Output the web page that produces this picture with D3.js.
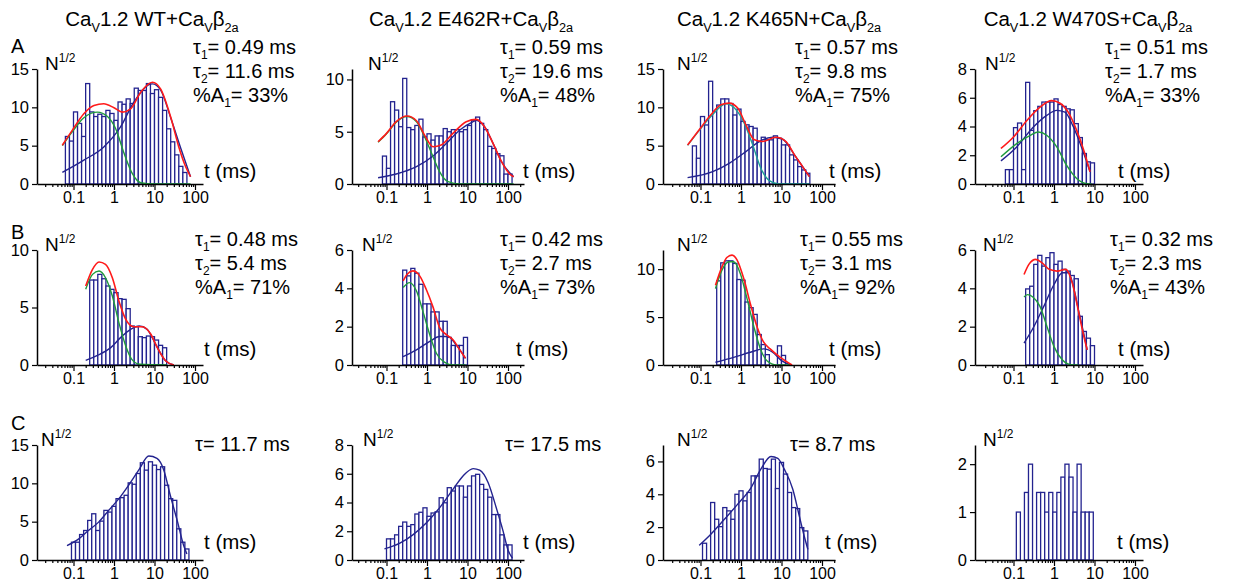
<!DOCTYPE html>
<html><head><meta charset="utf-8">
<script src="https://cdn.jsdelivr.net/npm/d3@7"></script>
<style>
body{margin:0;background:#fff}
svg{display:block}
text{font-family:"Liberation Sans",Arial,sans-serif;fill:#000}
</style>
</head><body>
<svg id="chart" width="1237" height="583"></svg>
<script>
// ---------------- DATA ----------------
const mutants = ["WT", "E462R", "K465N", "W470S"];
const rowLetters = ["A", "B", "C"];
const xTickLabels = [0.1, 1, 10, 100];

// y axis maxima and ticks
const yMaxA = [15, 11, 15, 8], yTicksA = [[0,5,10,15],[0,5,10],[0,5,10,15],[0,2,4,6,8]];
const yMaxB = [10, 6, 12, 6],  yTicksB = [[0,5,10],[0,2,4,6],[0,5,10],[0,2,4,6]];
const yMaxC = [15, 8, 7, 2.4], yTicksC = [[0,5,10,15],[0,2,4,6,8],[0,2,4,6],[0,1,2]];

// fit parameters shown
const tau1A = ["0.49","0.59","0.57","0.51"], tau2A = ["11.6","19.6","9.8","1.7"], ampA = ["33","48","75","33"];
const tau1B = ["0.48","0.42","0.55","0.32"], tau2B = ["5.4","2.7","3.1","2.3"], ampB = ["71","73","92","43"];
const tauC = ["11.7","17.5","8.7"];

// histogram bars: first bin edge (log10 ms) and sqrt(N) per 0.1-decade bin
const binStartA = [-1.2, -1.1, -1.2, -1.2];
const barsA1 = [6.2,5.6,9.4,7.9,6.2,13.1,9.4,8.8,9.1,8.8,9.6,9.2,8.3,10.7,10.4,11.1,10.5,12.5,12.2,12.2,13.1,11.8,12.3,11.3,9.6,7.2,5.5,3.8,2.3,1.5];
const barsA2 = [2.67,1.5,7.87,7.07,5.48,10.1,5.4,5.2,5.6,6.2,4.5,4.8,4.2,4.6,4.6,5.3,5.0,5.2,5.2,5.0,5.2,5.6,6.1,6.4,5.8,5.2,3.6,3.4,2.9,2.7,0.95,0.95];
const barsA3 = [4.97,3.36,8.8,7.7,13.4,9.46,10.3,11.1,11.1,10.5,9.0,9.77,8.16,7.72,7.5,7.28,5.54,6.1,5.76,5.76,6.28,5.97,5.1,5.1,3.8,3.14,2.27,1.83,1.4];
const barsA4 = [1.0,1.0,3.92,4.24,1.0,7.07,3.73,5.1,5.4,5.7,5.7,5.7,5.92,5.53,5.4,5.23,5.16,4.2,3.23,2.12,1.54,1.47];

const binStartB = [-0.6, -0.6, -0.6, -0.7];
const barsB1 = [7.39,7.39,7.88,7.5,6.87,6.58,6.29,5.77,5.71,4.9,3.39,3.33,2.46,2.38,2.52,2.46,2.17,1.71,1.5];
const barsB2 = [4.95,4.65,5.04,4.79,4.21,3.19,3.19,2.77,2.77,2.28,2.28,1.44,1.02,1.02,1.02,1.44];
const barsB3 = [8.78,10.66,10.87,10.87,10.6,8.92,8.85,6.57,5.98,5.28,3.18,2.13,1.08,0,0,2.0,1.0];
const barsB4 = [3.97,4.11,5.25,5.72,5.16,5.6,5.86,5.25,5.42,4.99,4.9,4.67,4.5,2.54,1.75,1.4,1.01];

const binStartC = [-1.05, -1.0, -0.95, -0.93];
const barsC1 = [2.32,2.32,3.32,3.85,5.16,6.03,3.85,5.07,6.47,6.25,7.0,8.0,8.13,8.44,10.06,9.88,11.28,12.68,11.72,12.81,12.37,11.8,12.16,9.75,8.0,7.78,4.07,2.32,1.44];
const barsC2 = [1.47,1.47,1.75,2.34,2.64,2.34,2.46,3.2,3.32,3.63,3.04,3.27,3.35,4.33,3.98,5.03,4.8,5.15,5.15,4.37,5.15,5.85,5.96,5.26,4.91,4.37,3.16,3.16,1.75,1.05,1.05];
const barsC3 = [1.02,0,3.5,2.48,2.03,3.19,2.99,2.48,4.0,4.21,3.6,4.11,5.12,5.12,6.14,5.57,5.53,6.14,4.35,5.94,5.23,4.11,3.19,3.13,1.97,1.77];
const barsC4 = [1,0,1.41,2,0,1.41,1.41,1,1.41,1,1.41,1.73,2,1.73,1,2,1,1,1];

// fitted curves: [t (ms), sqrt(N)]
const totalA1 = [[0.053,5.06],[0.093,7.0],[0.18,9.17],[0.32,10.25],[0.56,10.46],[1.0,9.94],[1.62,9.38],[2.57,9.8],[4.57,11.98],[8.9,13.27],[14.1,12.4],[25.1,8.73],[39.8,4.84],[58.9,2.25],[77.6,0.95]];
const fastA1  = [[0.053,5.0],[0.093,6.8],[0.18,8.65],[0.39,9.38],[0.69,8.8],[1.1,7.2],[1.78,3.98],[2.82,1.38],[4.57,0.17],[9.8,0],[77.6,0]];
const slowA1  = [[0.053,1.51],[0.18,3.11],[0.56,4.84],[1.45,7.44],[3.09,10.68],[8.9,13.06],[14.1,12.28],[25.1,8.65],[44.7,4.63],[77.6,0.95]];

const totalA2 = [[0.062,4.04],[0.1,4.84],[0.174,5.96],[0.32,6.5],[0.55,6.05],[0.87,4.68],[1.41,3.57],[2.24,3.73],[4.37,4.84],[9.3,5.96],[16.6,6.18],[26.3,5.48],[42.7,3.89],[69.2,2.13],[110,0.96],[138,0.7]];
const fastA2  = [[0.062,4.0],[0.1,4.8],[0.174,5.92],[0.32,6.45],[0.55,5.95],[0.87,4.52],[1.41,2.61],[2.04,1.18],[3.31,0.22],[6.46,0],[138,0]];
const slowA2  = [[0.062,0.6],[0.174,0.96],[0.55,1.66],[1.41,2.68],[3.02,3.89],[6.46,5.16],[13.8,5.96],[16.6,6.1],[26.3,5.48],[42.7,3.89],[69.2,2.13],[138,0.7]];

const totalA3 = [[0.048,5.1],[0.093,7.07],[0.18,9.03],[0.32,10.34],[0.51,10.55],[0.83,9.9],[1.32,7.72],[2.14,5.76],[3.39,5.54],[7.24,6.1],[12.9,5.54],[20.9,3.8],[33.1,2.27],[49,0.96]];
const fastA3  = [[0.048,5.03],[0.093,7.0],[0.18,8.8],[0.43,10.47],[0.69,9.9],[1.2,7.94],[1.95,5.1],[3.09,2.05],[5.01,0.44],[8.5,0],[49,0]];
const slowA3  = [[0.048,0.83],[0.2,1.61],[0.51,2.7],[1.32,4.23],[2.82,5.54],[6.03,6.1],[10.7,5.84],[20.9,3.8],[49,0.96]];

const totalA4 = [[0.049,2.47],[0.1,3.27],[0.214,4.42],[0.45,5.35],[0.87,5.8],[1.41,5.62],[2.24,5.0],[3.63,3.73],[5.25,2.47],[7.76,0.85]];
const fastA4  = [[0.049,1.89],[0.12,2.81],[0.26,3.39],[0.41,3.62],[0.66,3.39],[1.17,2.58],[2.04,1.31],[3.63,0.39],[6.6,0.02],[8.5,0]];
const slowA4  = [[0.049,1.61],[0.12,2.58],[0.31,3.96],[0.66,4.77],[1.17,5.12],[1.86,5.0],[3.02,3.96],[5.25,2.24],[7.76,0.85]];

const totalB1 = [[0.2,6.87],[0.295,8.32],[0.427,8.96],[0.617,8.75],[0.91,7.59],[1.32,5.57],[1.95,3.97],[3.09,3.33],[5.01,3.33],[8.13,2.67],[11.7,1.51],[19,0.35],[30.2,0]];
const fastB1  = [[0.2,6.58],[0.295,7.88],[0.427,8.17],[0.617,7.59],[0.91,6.0],[1.32,3.68],[1.95,1.65],[2.75,0.49],[4.37,0.06],[20,0]];
const slowB1  = [[0.2,0.41],[0.39,0.84],[0.83,1.51],[1.45,2.38],[2.57,3.1],[4.17,3.39],[6.6,3.1],[10.7,1.8],[19,0.35],[30.2,0]];

const totalB2 = [[0.257,4.39],[0.324,4.74],[0.447,4.91],[0.66,4.65],[0.955,3.95],[1.41,3.02],[2.04,1.96],[3.02,1.58],[4.37,1.32],[6.46,0.79],[8.9,0.35]];
const fastB2  = [[0.257,4.04],[0.37,4.3],[0.55,3.86],[0.79,2.81],[1.17,1.58],[1.7,0.61],[2.75,0.14],[4.4,0],[8.9,0]];
const slowB2  = [[0.257,0.44],[0.55,0.79],[1.17,1.23],[2.04,1.49],[3.31,1.49],[5.25,1.05],[8.9,0.35]];

const totalB3 = [[0.234,8.32],[0.339,10.24],[0.447,11.22],[0.6,11.47],[0.79,11.0],[1.17,9.02],[1.7,6.4],[2.51,3.95],[3.63,2.38],[5.25,1.68],[9.33,0.8],[18.2,0]];
const fastB3  = [[0.234,7.97],[0.339,9.9],[0.5,10.77],[0.66,10.77],[0.96,9.55],[1.41,6.92],[2.09,3.95],[3.02,1.68],[4.37,0.45],[7.6,0],[16.6,0]];
const slowB3  = [[0.234,0.28],[0.66,0.8],[1.7,1.33],[3.63,1.68],[6.03,1.33],[10,0.45],[16.6,0]];

const totalB4 = [[0.182,4.72],[0.24,5.25],[0.355,5.51],[0.51,5.33],[0.76,4.99],[1.2,4.9],[1.95,4.99],[2.82,4.29],[3.8,3.06],[5.01,1.84],[6.6,0.79]];
const fastB4  = [[0.182,3.55],[0.22,3.67],[0.3,3.55],[0.45,3.06],[0.67,2.01],[1.0,0.96],[1.62,0.26],[2.6,0.02],[4,0]];
const slowB4  = [[0.182,1.14],[0.32,2.01],[0.56,3.06],[1.0,4.2],[1.62,4.81],[2.3,4.81],[3.0,4.11],[4.0,2.89],[5.4,1.66],[6.6,0.79]];

const fitC1 = [[0.069,1.88],[0.135,2.75],[0.234,3.85],[0.417,4.94],[0.74,6.47],[1.32,8.0],[2.29,9.75],[4.07,11.72],[7.24,13.56],[11.5,13.25],[17,11.72],[24.5,8.44],[36.3,5.16],[52.5,1.88],[63,0.79]];
const fitC2 = [[0.089,0.77],[0.214,1.17],[0.447,1.75],[0.955,2.57],[2.04,3.63],[4.37,4.91],[7.76,5.85],[13.8,6.36],[20,6.25],[32.4,5.38],[51.3,3.63],[75.9,1.99],[100,0.7],[129,0.12]];
const fitC3 = [[0.093,0.89],[0.18,1.57],[0.39,2.48],[0.83,3.4],[1.78,4.41],[3.09,5.53],[5.5,6.3],[8.1,6.18],[11.7,5.53],[19,4.31],[27.5,2.68],[36.3,1.46],[44.7,0.65]];

// ---------------- LAYOUT ----------------
const RED = "#ff1a1a", GREEN = "#1f9b3c", TEAL = "#1f9e96", NAVY = "#23238f";
const colX = [37, 352, 663, 975];       // y-axis position
const colLog0 = [77, 75, 78, 79];       // px from y axis to t = 1 ms
const colLen = [166, 172, 172, 168];    // x-axis length
const DEC = 40.5;                        // px per decade
const rowY0 = [184, 365, 560];
const plotH = 115;
const nOffset = [[8,16,14,10],[8,10,14,8],[4,11,14,8]];
const tLabelX = [[204,523,829,1118],[204,516,829,1118],[204,523,825,1117]];
const tLabelY = [178, 356, 549];
const annX = [[193,500,795,1105],[195,500,800,1110],[195,505,790]];
const annY = [[54,78,102],[246,270,294],[451]];
const titleX = [152, 471, 779, 1088];
const letterY = [53, 239, 430];

const svg = d3.select("#chart");

function rich(sel, x, y, str, fs, anchor, subShift, ratio) {
  const t = sel.append("text").attr("x", x).attr("y", y)
    .attr("font-size", fs).attr("text-anchor", anchor || "start");
  const re = /([_^])\{([^}]*)\}/g;
  let last = 0, cur = 0, m;
  const parts = [];
  while ((m = re.exec(str)) !== null) {
    if (m.index > last) parts.push({t: str.slice(last, m.index)});
    parts.push({t: m[2], sub: m[1] === "_", sup: m[1] === "^"});
    last = re.lastIndex;
  }
  if (last < str.length) parts.push({t: str.slice(last)});
  parts.forEach(p => {
    const off = p.sub ? fs * (subShift || 0.32) : p.sup ? -fs * 0.4 : 0;
    const s = t.append("tspan").attr("dy", off - cur).text(p.t);
    if (p.sub || p.sup) s.attr("font-size", fs * (ratio || 0.62));
    cur = off;
  });
  return t;
}

// titles & row letters
mutants.forEach((m, i) => rich(svg, titleX[i], 26, "Ca_{V}1.2 " + m + "+Ca_{V}β_{2a}", 20.5, "middle", 0.3));
rowLetters.forEach((l, r) => svg.append("text").attr("x", 11).attr("y", letterY[r])
  .attr("font-size", 20).text(l));

const panels = [
  {r:0,c:0,ymax:yMaxA[0],yt:yTicksA[0],start:binStartA[0],bars:barsA1,curves:[[slowA1,NAVY],[fastA1,GREEN],[totalA1,RED]]},
  {r:0,c:1,ymax:yMaxA[1],yt:yTicksA[1],start:binStartA[1],bars:barsA2,curves:[[slowA2,NAVY],[fastA2,GREEN],[totalA2,RED]]},
  {r:0,c:2,ymax:yMaxA[2],yt:yTicksA[2],start:binStartA[2],bars:barsA3,curves:[[slowA3,NAVY],[fastA3,TEAL],[totalA3,RED]]},
  {r:0,c:3,ymax:yMaxA[3],yt:yTicksA[3],start:binStartA[3],bars:barsA4,curves:[[slowA4,NAVY],[fastA4,GREEN],[totalA4,RED]]},
  {r:1,c:0,ymax:yMaxB[0],yt:yTicksB[0],start:binStartB[0],bars:barsB1,curves:[[slowB1,NAVY],[fastB1,GREEN],[totalB1,RED]]},
  {r:1,c:1,ymax:yMaxB[1],yt:yTicksB[1],start:binStartB[1],bars:barsB2,curves:[[slowB2,NAVY],[fastB2,GREEN],[totalB2,RED]]},
  {r:1,c:2,ymax:yMaxB[2],yt:yTicksB[2],start:binStartB[2],bars:barsB3,curves:[[slowB3,NAVY],[fastB3,GREEN],[totalB3,RED]]},
  {r:1,c:3,ymax:yMaxB[3],yt:yTicksB[3],start:binStartB[3],bars:barsB4,curves:[[slowB4,NAVY],[fastB4,GREEN],[totalB4,RED]]},
  {r:2,c:0,ymax:yMaxC[0],yt:yTicksC[0],start:binStartC[0],bars:barsC1,curves:[[fitC1,NAVY]]},
  {r:2,c:1,ymax:yMaxC[1],yt:yTicksC[1],start:binStartC[1],bars:barsC2,curves:[[fitC2,NAVY]]},
  {r:2,c:2,ymax:yMaxC[2],yt:yTicksC[2],start:binStartC[2],bars:barsC3,curves:[[fitC3,NAVY]]},
  {r:2,c:3,ymax:yMaxC[3],yt:yTicksC[3],start:binStartC[3],bars:barsC4,curves:[]}
];

const FONT = '"Liberation Sans",Arial,sans-serif';

panels.forEach(p => {
  const x0 = colX[p.c], len = colLen[p.c], l0 = colLog0[p.c], y0 = rowY0[p.r];
  const x = d3.scaleLog()
    .domain([Math.pow(10, -l0 / DEC), Math.pow(10, (len - l0) / DEC)])
    .range([x0, x0 + len]);
  const y = d3.scaleLinear().domain([0, p.ymax]).range([y0, y0 - plotH]);
  const g = svg.append("g");

  // bars
  g.append("g").selectAll("rect").data(p.bars.map((v, i) => ({v, i})).filter(d => d.v > 0))
    .join("rect")
    .attr("x", d => x(Math.pow(10, p.start + d.i * 0.1)))
    .attr("width", d => x(Math.pow(10, p.start + (d.i + 1) * 0.1)) - x(Math.pow(10, p.start + d.i * 0.1)))
    .attr("y", d => y(d.v))
    .attr("height", d => y0 - y(d.v))
    .attr("fill", "#fff").attr("stroke", NAVY).attr("stroke-width", 1.3);

  // curves
  const line = d3.line().x(d => x(d[0])).y(d => y(d[1])).curve(d3.curveMonotoneX);
  p.curves.forEach(([data, col]) => {
    g.append("path").attr("d", line(data)).attr("fill", "none")
      .attr("stroke", col).attr("stroke-width", col === RED ? 1.6 : 1.4);
  });

  // x axis: minor ticks
  const dom = x.domain();
  const minor = [];
  for (let e = -2; e <= 2; e++) for (let k = 2; k <= 9; k++) {
    const v = k * Math.pow(10, e);
    if (v > dom[0] && v < dom[1]) minor.push(v);
  }
  const ax = g.append("g").attr("transform", `translate(0,${y0})`);
  ax.call(d3.axisBottom(x).tickValues(minor).tickSize(3).tickFormat(""))
    .call(s => s.select(".domain").remove());
  const axM = g.append("g").attr("transform", `translate(0,${y0})`);
  axM.call(d3.axisBottom(x).tickValues(xTickLabels).tickSize(6).tickSizeOuter(0)
      .tickFormat(d => String(d)).tickPadding(2));
  axM.selectAll("text").attr("font-size", 16).attr("font-family", FONT).attr("fill", "#000");
  g.selectAll(".tick line").attr("stroke", "#000").attr("stroke-width", 1.2);
  axM.select(".domain").attr("stroke", "#000").attr("stroke-width", 1.5);

  // y axis
  const ay = g.append("g").attr("transform", `translate(${x0},0)`);
  ay.call(d3.axisLeft(y).tickValues(p.yt).tickSize(5).tickSizeOuter(0).tickPadding(3)
      .tickFormat(d => String(d)));
  ay.selectAll("text").attr("font-size", 16.5).attr("font-family", FONT).attr("fill", "#000");
  ay.selectAll(".tick line").attr("stroke", "#000").attr("stroke-width", 1.2);
  ay.select(".domain").attr("stroke", "#000").attr("stroke-width", 1.5);

  // labels
  rich(svg, x0 + nOffset[p.r][p.c], y0 - plotH + 1, "N^{1/2}", 19, "start", 0, 0.63);
  svg.append("text").attr("x", tLabelX[p.r][p.c]).attr("y", tLabelY[p.r])
    .attr("font-size", 20.5).text("t (ms)");
});

// annotations
const AF = 20;
for (let c = 0; c < 4; c++) {
  rich(svg, annX[0][c], annY[0][0], "τ_{1}= " + tau1A[c] + " ms", AF, "start", 0.26, 0.6);
  rich(svg, annX[0][c], annY[0][1], "τ_{2}= " + tau2A[c] + " ms", AF, "start", 0.26, 0.6);
  rich(svg, annX[0][c], annY[0][2], "%A_{1}= " + ampA[c] + "%", AF, "start", 0.26, 0.6);
  rich(svg, annX[1][c], annY[1][0], "τ_{1}= " + tau1B[c] + " ms", AF, "start", 0.26, 0.6);
  rich(svg, annX[1][c], annY[1][1], "τ_{2}= " + tau2B[c] + " ms", AF, "start", 0.26, 0.6);
  rich(svg, annX[1][c], annY[1][2], "%A_{1}= " + ampB[c] + "%", AF, "start", 0.26, 0.6);
}
tauC.forEach((v, c) => rich(svg, annX[2][c], annY[2][0], "τ= " + v + " ms", AF, "start"));
</script>
</body></html>
